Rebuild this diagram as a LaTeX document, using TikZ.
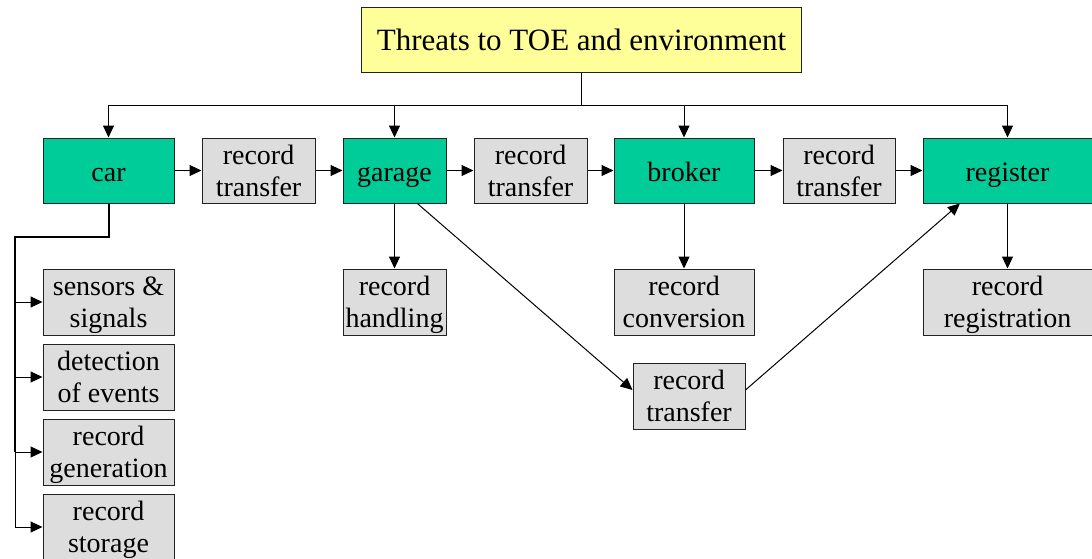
\documentclass[tikz,border=0pt]{standalone}
\usepackage{fontspec}
\setmainfont{Liberation Serif}
\usetikzlibrary{arrows.meta,calc}
\definecolor{boxgreen}{HTML}{00CC99}
\definecolor{boxgray}{HTML}{DDDDDD}
\definecolor{boxyellow}{HTML}{FFFF99}
\definecolor{edgecol}{HTML}{222222}
\begin{document}
\begin{tikzpicture}[x=1pt,y=-1pt,
  base/.style={draw=edgecol,line width=1pt,inner sep=0pt,align=center,
    font=\fontsize{28}{32}\selectfont,minimum height=65pt},
  green/.style={base,fill=boxgreen,text height=25pt,text depth=4pt},
  gray/.style={base,fill=boxgray,text depth=0pt},
  topbox/.style={base,fill=boxyellow,font=\fontsize{31}{36}\selectfont},
  conn/.style={line width=1pt,draw=black},
  arr/.style={conn,-{Triangle[length=12pt,width=11pt]}},
  thickconn/.style={line width=2pt,draw=black}]
\useasboundingbox (0,0) rectangle (1092,558);
% top
\node[topbox,minimum width=440pt] (top) at (581.5,40) {Threats to TOE and environment};
% row 1
\node[green,minimum width=131pt] (car) at (108.5,170.5) {car};
\node[gray,minimum width=113pt] (rt1) at (258.5,170.5) {record\\transfer};
\node[green,minimum width=103pt] (garage) at (394.5,170.5) {garage};
\node[gray,minimum width=113pt] (rt2) at (530.5,170.5) {record\\transfer};
\node[green,minimum width=140pt] (broker) at (684,170.5) {broker};
\node[gray,minimum width=112pt] (rt3) at (839,170.5) {record\\transfer};
\node[green,minimum width=169pt] (register) at (1007.5,170.5) {register};
% row 2
\node[gray,minimum width=131pt,minimum height=66pt] (sens) at (108.5,302) {sensors \&\\signals};
\node[gray,minimum width=103pt,minimum height=66pt] (hand) at (394.5,302) {record\\handling};
\node[gray,minimum width=140pt,minimum height=66pt] (conv) at (684,302) {record\\conversion};
\node[gray,minimum width=169pt,minimum height=66pt] (regi) at (1007.5,302) {record\\registration};
% column under car
\node[gray,minimum width=131pt,minimum height=66pt] (det) at (108.5,377) {detection\\of events};
\node[gray,minimum width=131pt,minimum height=66pt] (gen) at (108.5,452) {record\\generation};
\node[gray,minimum width=131pt,minimum height=66pt] (stor) at (108.5,527) {record\\storage};
% lower transfer
\node[gray,minimum width=112pt,minimum height=66pt] (lrt) at (689,396) {record\\transfer};
% tree from top
\coordinate (hub) at (581.5,105);
\coordinate (hl) at (108.5,105);
\coordinate (hr) at (1007.5,105);
\draw[conn] (top.south) -- (hub);
\draw[conn] (hl) -- (hr);
\draw[arr] (hl) -- (car.north);
\draw[arr] (garage.north |- hub) -- (garage.north);
\draw[arr] (broker.north |- hub) -- (broker.north);
\draw[arr] (hr) -- (register.north);
% row 1 arrows
\draw[arr] (car.east) -- (rt1.west);
\draw[arr] (rt1.east) -- (garage.west);
\draw[arr] (garage.east) -- (rt2.west);
\draw[arr] (rt2.east) -- (broker.west);
\draw[arr] (broker.east) -- (rt3.west);
\draw[arr] (rt3.east) -- (register.west);
% down arrows
\draw[arr] (garage.south) -- (hand.north);
\draw[arr] (broker.south) -- (conv.north);
\draw[arr] (register.south) -- (regi.north);
% car column
\coordinate (c1) at (108.5,237);
\coordinate (c2) at (15,237);
\coordinate (c3) at (15,452);
\coordinate (c4) at (15,527);
\draw[thickconn,line join=miter] (car.south) -- (c1) -- (c2) -- (c3);
\draw[conn] (c3) -- (c4);
\draw[arr] (c2 |- sens.west) -- (sens.west);
\draw[arr] (c2 |- det.west) -- (det.west);
\draw[arr] (c2 |- gen.west) -- (gen.west);
\draw[arr] (c2 |- stor.west) -- (stor.west);
% diagonals
\draw[arr] ($(garage.south west)!0.72!(garage.south east)$) -- ($(lrt.north west)!0.41!(lrt.south west)$);
\draw[arr] ($(lrt.north east)!0.41!(lrt.south east)$) -- ($(register.south west)!0.22!(register.south east)$);
\end{tikzpicture}
\end{document}
